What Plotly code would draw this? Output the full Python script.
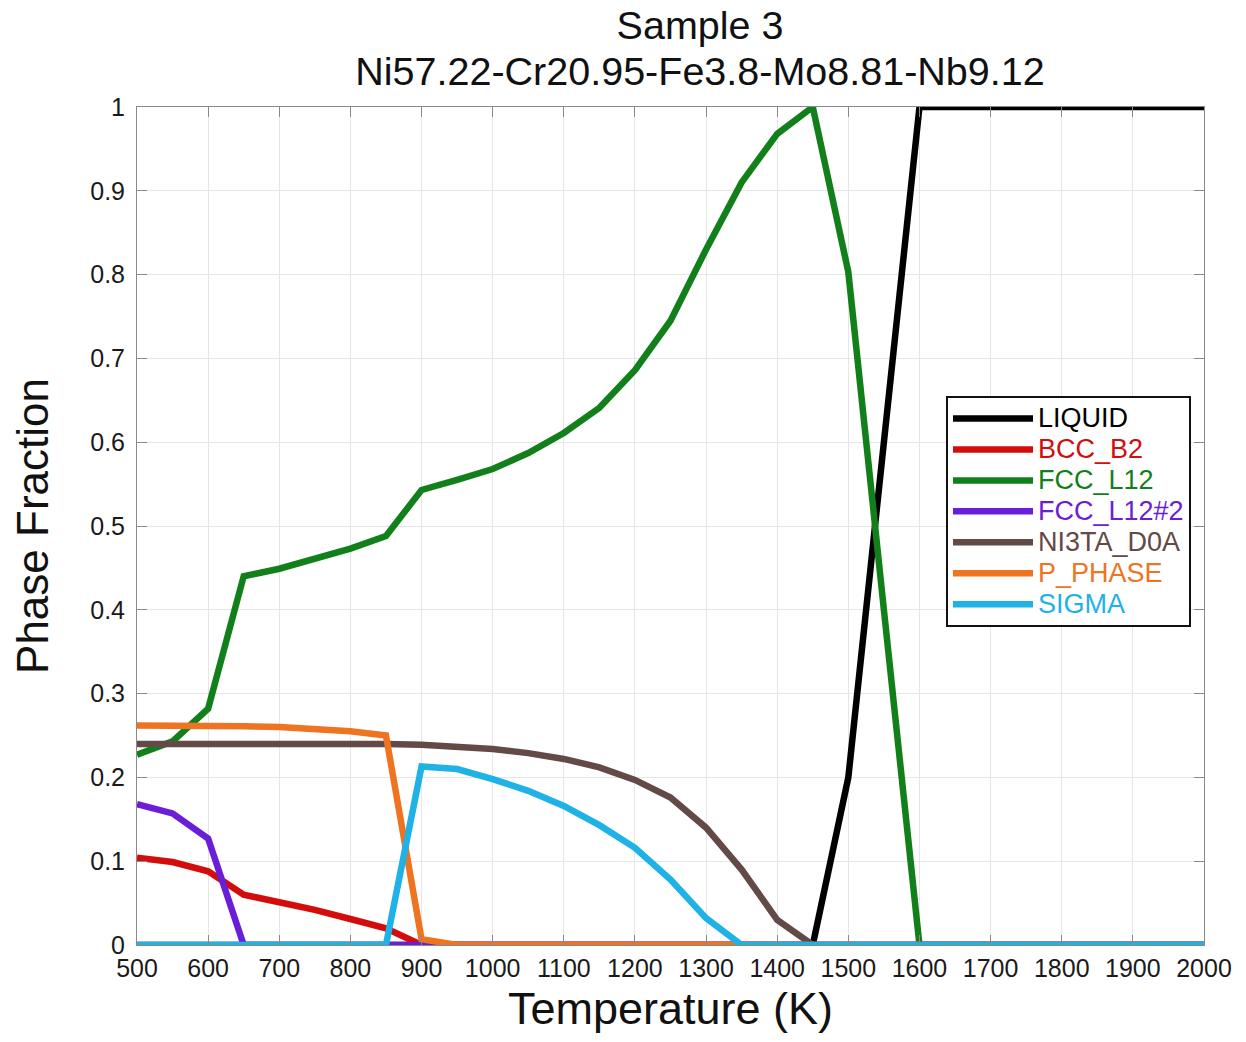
import plotly.graph_objects as go

temperature = [500, 550, 600, 650, 700, 750, 800, 850, 900, 950, 1000, 1050, 1100,
               1150, 1200, 1250, 1300, 1350, 1400, 1450, 1500, 1550, 1600, 1650,
               1700, 1750, 1800, 1850, 1900, 1950, 2000]

liquid = [0, 0, 0, 0, 0, 0, 0, 0, 0, 0, 0, 0, 0, 0, 0, 0, 0, 0, 0, 0,
          0.20, 0.60, 1, 1, 1, 1, 1, 1, 1, 1, 1]
bcc_b2 = [0.104, 0.099, 0.088, 0.060, 0.051, 0.042, 0.031, 0.020,
          0, 0, 0, 0, 0, 0, 0, 0, 0, 0, 0, 0, 0, 0, 0, 0, 0, 0, 0, 0, 0, 0, 0]
fcc_l12 = [0.227, 0.243, 0.282, 0.440, 0.449, 0.460, 0.473, 0.488, 0.543, 0.555,
           0.568, 0.587, 0.611, 0.641, 0.686, 0.745, 0.830, 0.910, 0.968, 1.000,
           0.803, 0.400, 0, 0, 0, 0, 0, 0, 0, 0, 0]
fcc_l12_2 = [0.168, 0.157, 0.127, 0,
             0, 0, 0, 0, 0, 0, 0, 0, 0, 0, 0, 0, 0, 0, 0, 0, 0, 0, 0, 0, 0, 0, 0, 0, 0, 0, 0]
ni3ta_d0a = [0.240, 0.240, 0.240, 0.241, 0.241, 0.241, 0.240, 0.240, 0.239, 0.237,
             0.234, 0.229, 0.222, 0.212, 0.197, 0.176, 0.140, 0.090, 0.030, 0,
             0, 0, 0, 0, 0, 0, 0, 0, 0, 0, 0]
p_phase = [0.262, 0.262, 0.262, 0.261, 0.260, 0.258, 0.255, 0.250, 0.007, 0,
           0, 0, 0, 0, 0, 0, 0, 0, 0, 0, 0, 0, 0, 0, 0, 0, 0, 0, 0, 0, 0]
sigma = [0, 0, 0, 0, 0, 0, 0, 0, 0.213, 0.210, 0.198, 0.184, 0.166, 0.143, 0.116,
         0.078, 0.032, 0, 0, 0, 0, 0, 0, 0, 0, 0, 0, 0, 0, 0, 0]

phase_names = ["LIQUID", "BCC_B2", "FCC_L12", "FCC_L12#2", "NI3TA_D0A", "P_PHASE", "SIGMA"]
phase_values = [liquid, bcc_b2, fcc_l12, fcc_l12_2, ni3ta_d0a, p_phase, sigma]
phase_colors = ["#000000", "#D30C0C", "#12801A", "#6A1ED8", "#634A46", "#EE7421", "#1EB2E6"]

title_lines = ["Sample 3", "Ni57.22-Cr20.95-Fe3.8-Mo8.81-Nb9.12"]

FONT = "Liberation Sans, Arial, sans-serif"

# page has an 8px body margin; figure coordinates = screen - 8
W, H = 1230, 1026

fig = go.Figure()
for name, vals, col in zip(phase_names, phase_values, phase_colors):
    fig.add_trace(go.Scatter(
        x=temperature, y=vals, mode="lines",
        name=f'<span style="color:{col};font-size:27px">{name}</span>',
        line=dict(color=col, width=6.5),
    ))

axis_common = dict(
    automargin=False,
    showgrid=True, gridcolor="#E6E6E6", gridwidth=1,
    showline=True, linecolor="#8A8A8A", linewidth=1, mirror="ticks",
    ticks="inside", ticklen=10, tickcolor="#8A8A8A", tickwidth=1,
    zeroline=False,
    tickfont=dict(family=FONT, size=25, color="#1a1a1a"),
)

title_text = "<br>".join(f'<span style="font-size:39.5px">{t}</span>' for t in title_lines)

fig.update_layout(
    width=W, height=H,
    margin=dict(l=129, r=34, t=99, b=89),
    paper_bgcolor="white", plot_bgcolor="white",
    title=dict(
        text=title_text,
        x=692 / W, xanchor="center", xref="container",
        y=1 - 31 / H, yanchor="top", yref="container",
        font=dict(family=FONT, size=35.5, color="#111111"),
    ),
    xaxis=dict(range=[500, 2000], dtick=100, tick0=500, ticklabelstandoff=1,
               title=dict(text="Temperature (K)", font=dict(family=FONT, size=45, color="#111111"), standoff=20),
               **axis_common),
    yaxis=dict(range=[0, 1], dtick=0.1, tick0=0, ticklabelstandoff=6,
               title=dict(text="Phase Fraction", font=dict(family=FONT, size=44, color="#111111"), standoff=34),
               **axis_common),
    legend=dict(
        x=(946 - 137) / 1067, y=(945 - 396) / 838, xanchor="left", yanchor="top",
        bgcolor="white", bordercolor="#111111", borderwidth=2,
        font=dict(family=FONT, size=21.5),
        itemwidth=80, tracegroupgap=0,
        entrywidth=170, entrywidthmode="pixels",
    ),
    showlegend=True,
)

fig.write_html("out.html")
